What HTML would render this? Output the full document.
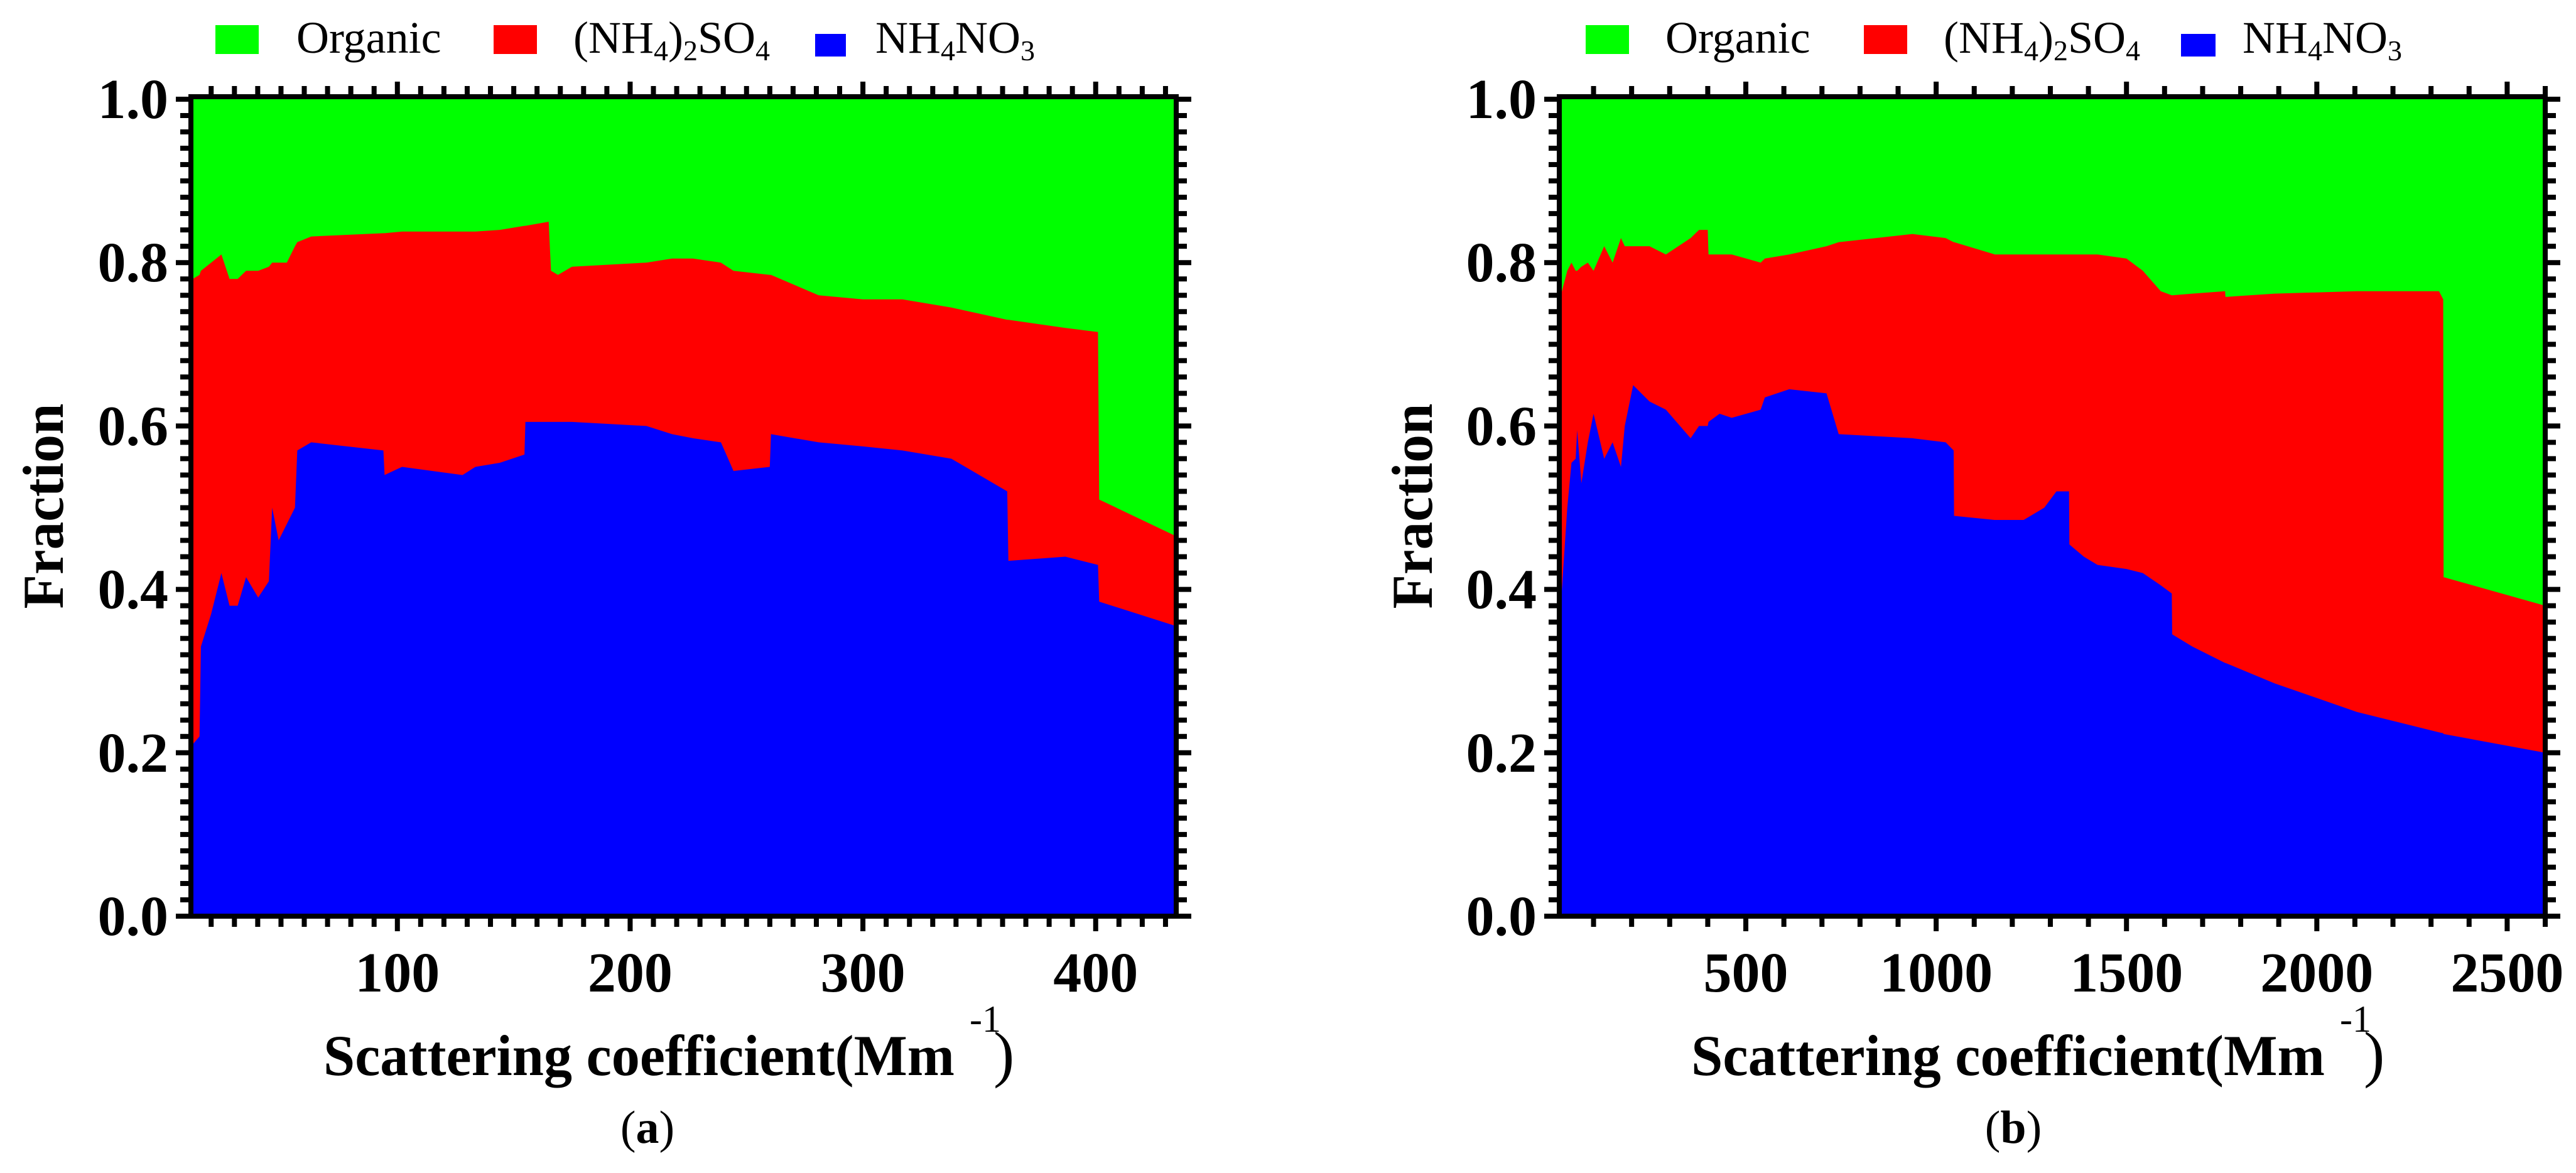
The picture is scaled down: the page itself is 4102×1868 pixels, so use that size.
<!DOCTYPE html>
<html><head><meta charset="utf-8"><style>
html,body{margin:0;padding:0;background:#fff;}
svg{display:block;font-family:"Liberation Serif","DejaVu Serif","Times New Roman",serif;}
svg text{font-family:"Liberation Serif","DejaVu Serif","Times New Roman",serif;}
</style></head><body>
<svg id="fig" width="4102" height="1868" viewBox="0 0 4102 1868" xmlns="http://www.w3.org/2000/svg" font-family="Liberation Serif, DejaVu Serif, serif"></svg>
<script>
// ---- Panel (a) data ----
const xA = [12,15,15.6,20,24.4,27.9,31.4,35,40.2,44.8,46.2,49,52.5,56,57,63,94,94.5,102,128,133.5,144,154.6,155,165,166,169,175,207,218,227,239,244.4,260,260.5,281,300,317,338,362,362.5,387,401,401.5,434.6];
const nitrateA = [0.21,0.22,0.33,0.37,0.42,0.38,0.38,0.415,0.39,0.41,0.50,0.46,0.48,0.50,0.57,0.58,0.57,0.54,0.55,0.54,0.55,0.555,0.565,0.605,0.605,0.605,0.605,0.605,0.60,0.59,0.585,0.58,0.545,0.55,0.59,0.58,0.575,0.57,0.56,0.52,0.435,0.44,0.43,0.385,0.355];
const sulfateTopA = [0.78,0.785,0.79,0.80,0.81,0.78,0.78,0.79,0.79,0.795,0.80,0.80,0.80,0.82,0.825,0.832,0.836,0.836,0.838,0.838,0.838,0.84,0.845,0.845,0.85,0.79,0.785,0.795,0.80,0.805,0.805,0.80,0.79,0.785,0.785,0.76,0.755,0.755,0.745,0.73,0.73,0.72,0.715,0.51,0.465];
const xTicksA = [100,200,300,400];
// ---- Panel (b) data ----
const xB = [10,14,31,42,53,57,68,85,100,128,150,172,182,204,247,290,355,377,400,402,431,463,539,550,614,712,744,938,1025,1046,1047,1154,1230,1284,1316,1349,1350,1388,1424,1500,1543,1590,1619,1620,1673,1759,1760,1889,2105,2321,2332,2333,2600];
const nitrateB = [0.36,0.38,0.50,0.555,0.56,0.595,0.53,0.58,0.615,0.56,0.58,0.55,0.60,0.65,0.63,0.62,0.585,0.60,0.60,0.605,0.615,0.61,0.62,0.635,0.645,0.64,0.59,0.585,0.58,0.57,0.49,0.485,0.485,0.50,0.52,0.52,0.455,0.44,0.43,0.425,0.42,0.405,0.395,0.345,0.33,0.31,0.31,0.285,0.25,0.225,0.224,0.223,0.20];
const sulfateTopB = [0.74,0.76,0.79,0.80,0.79,0.79,0.795,0.80,0.79,0.82,0.80,0.83,0.82,0.82,0.82,0.81,0.83,0.84,0.84,0.81,0.81,0.81,0.80,0.805,0.81,0.82,0.825,0.835,0.83,0.825,0.825,0.81,0.81,0.81,0.81,0.81,0.81,0.81,0.81,0.805,0.79,0.765,0.76,0.76,0.762,0.765,0.758,0.762,0.765,0.765,0.755,0.415,0.38];
const xTicksB = [500,1000,1500,2000,2500];
const yTicks = [0.0,0.2,0.4,0.6,0.8,1.0];
const legendLabels = ["Organic","(NH4)2SO4","NH4NO3"];

const NS="http://www.w3.org/2000/svg";
const svg=document.getElementById('fig');
function mk(tag,attrs,parent){const e=document.createElementNS(NS,tag);for(const k in attrs)e.setAttribute(k,attrs[k]);(parent||svg).appendChild(e);return e;}

function panel(cfg){
  const g=mk('g',{});
  
  
  const L=cfg.left,R=cfg.right,T=158,B=1459;
  const sx=v=>L+(v-cfg.xmin)/(cfg.xmax-cfg.xmin)*(R-L);
  const sy=v=>B-v*(B-T);
  const org=mk('rect',{x:L,y:T,width:R-L,height:B-T,fill:'#00ff00'},g);
  
  
  let d='M'+sx(cfg.xs[0])+','+B;
  cfg.xs.forEach((x,i)=>{d+=' L'+sx(x)+','+sy(cfg.top[i]);});
  d+=' L'+R+','+sy(cfg.top[cfg.top.length-1])+' L'+R+','+B+' Z';
  const red=mk('path',{d:d,fill:'#ff0000'},g);
  
  
  d='M'+sx(cfg.xs[0])+','+B;
  cfg.xs.forEach((x,i)=>{d+=' L'+sx(x)+','+sy(cfg.nit[i]);});
  d+=' L'+R+','+sy(cfg.nit[cfg.nit.length-1])+' L'+R+','+B+' Z';
  const blue=mk('path',{d:d,fill:'#0000ff'},g);
  
  
  const fr=mk('rect',{x:L,y:T-4,width:R-L,height:B-T+4,fill:'none',stroke:'#000','stroke-width':8},g);
  
  
  for(let v=Math.ceil(cfg.xmin/cfg.minor)*cfg.minor; v<=cfg.xmax; v+=cfg.minor){
    const major=cfg.xticks.includes(v); const len=major?20:13; const X=sx(v);
    mk('line',{x1:X,x2:X,y1:B+4,y2:B+4+len,stroke:'#000','stroke-width':8},g);
    mk('line',{x1:X,x2:X,y1:T-8,y2:T-8-len,stroke:'#000','stroke-width':8},g);
  }
  for(let k=0;k<=50;k++){
    const v=k/50; const major=(k%10===0); const len=major?20:13; const Y=sy(v);
    mk('line',{x1:L-4,x2:L-4-len,y1:Y,y2:Y,stroke:'#000','stroke-width':8},g);
    mk('line',{x1:R+4,x2:R+4+len,y1:Y,y2:Y,stroke:'#000','stroke-width':8},g);
  }
  cfg.xticks.forEach(v=>{
    const t=mk('text',{x:sx(v),y:1579,'text-anchor':'middle','font-size':90,'font-weight':'bold'},g);
    t.textContent=String(v);
    
    
  });
  yTicks.forEach(v=>{
    const t=mk('text',{x:L-36,y:sy(v)+30,'text-anchor':'end','font-size':90,'font-weight':'bold'},g);
    t.textContent=v.toFixed(1);
    
    
  });
  const yt=mk('text',{x:0,y:0,transform:'translate('+cfg.ytx+',806) rotate(-90)','text-anchor':'middle','font-size':92,'font-weight':'bold',textLength:327,lengthAdjust:'spacingAndGlyphs'},g);
  yt.textContent='Fraction';
  
  
  const xt=mk('text',{x:cfg.xtx,y:1712,'font-size':92,'font-weight':'bold',textLength:cfg.xtl,lengthAdjust:'spacingAndGlyphs'},g);
  xt.textContent='Scattering coefficient(Mm';
  
  
  const sup=mk('text',{x:cfg.xtx+cfg.xtl+24,y:1643,'font-size':60},g);
  sup.textContent='-1';
  
  
  const par=mk('text',{x:cfg.xtx+cfg.xtl+62,y:1712,'font-size':100},g);
  par.textContent=')';
  
  
  const pl=mk('text',{x:cfg.labx,y:1820,'text-anchor':'middle','font-size':74},g);
  pl.innerHTML='(<tspan font-weight="bold">'+cfg.lab+'</tspan>)';
  
  
  const lg=mk('g',{},g);
  
  
  const cols=['#00ff00','#ff0000','#0000ff'];
  cfg.leg.forEach((p,i)=>{
    const r=mk('rect',{x:p[0],y:i===2?54:40,width:p[1],height:i===2?36:46,fill:cols[i]},lg);
    
    
    const t=mk('text',{x:p[2],y:84,'font-size':72},lg);
    const lbl=legendLabels[i];
    if(i===0) t.textContent=lbl;
    else if(i===1) t.innerHTML='(NH<tspan font-size="46" dy="12">4</tspan><tspan dy="-12">)</tspan><tspan font-size="46" dy="12">2</tspan><tspan dy="-12">SO</tspan><tspan font-size="46" dy="12">4</tspan>';
    else t.innerHTML='NH<tspan font-size="46" dy="12">4</tspan><tspan dy="-12">NO</tspan><tspan font-size="46" dy="12">3</tspan>';
    
    
  });
}
panel({name:'panel-a',left:304,right:1873,xmin:11.3,xmax:434.6,xs:xA,nit:nitrateA,top:sulfateTopA,xticks:xTicksA,minor:10,ytx:100,xtx:515,xtl:1005,labx:1031,lab:'a',
  leg:[[343,69,472],[786,69,913],[1298,49,1394]]});
panel({name:'panel-b',left:2483,right:4053,xmin:10,xmax:2600,xs:xB,nit:nitrateB,top:sulfateTopB,xticks:xTicksB,minor:100,ytx:2280,xtx:2693,xtl:1009,labx:3206,lab:'b',
  leg:[[2525,69,2652],[2968,69,3095],[3473,55,3571]]});
</script>
</body></html>
